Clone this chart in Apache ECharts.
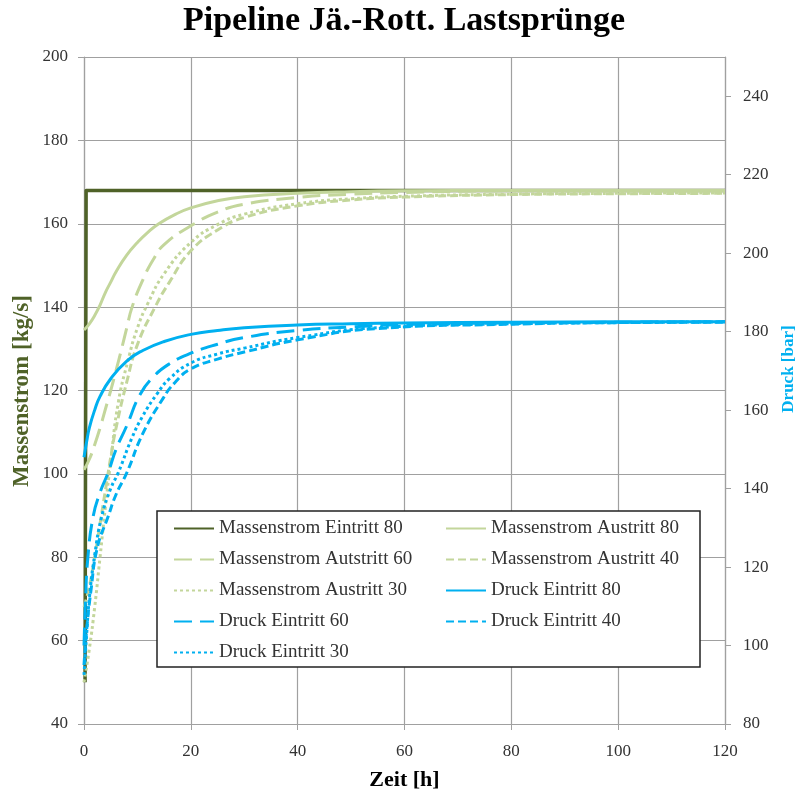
<!DOCTYPE html>
<html>
<head>
<meta charset="utf-8">
<script src="https://cdn.jsdelivr.net/npm/echarts@6/dist/echarts.min.js"></script>
<style>
html,body{margin:0;padding:0;background:#fff;}
#c{width:798px;height:796px;}
</style>
</head>
<body>
<div id="c"></div>
<script>
// ---- data (t [h], value) ----
const massEin80 = [[0.2,50],[0.4,168],[120,168]];
const massAus80 = [[0,134.5],[1,136],[2,138],[3,140.5],[4,143.5],[5,146],[6,148.5],[8,152.5],[10,155.5],[12,158],[14,160],[17,162.2],[20,163.8],[25,165.5],[30,166.5],[40,167.3],[50,167.7],[60,167.9],[80,168],[120,168]];
const massAus60 = [[0,101],[1,103.5],[2,107],[3,111],[4,115.5],[5,120],[6,124.8],[7,129.8],[8,135],[9,140],[11,146.5],[13,151.5],[15,155],[20,159.5],[25,162.8],[30,164.7],[40,166.3],[50,167.1],[60,167.5],[80,167.9],[120,168]];
const massAus40 = [[0,68],[1,73],[2,80],[3,88],[4,96],[5,104],[6,111],[8,122],[10,131],[13.3,140],[16,146],[20,153.5],[25,158.5],[30,161.5],[40,164.3],[50,165.7],[60,166.4],[80,167],[100,167.2],[120,167.3]];
const massAus30 = [[0,50],[1,58],[2,68],[3,80],[4,92],[5,103],[6.4,117],[8.2,127],[10,135],[12,141],[15,148],[20,155.5],[25,159.8],[30,162.3],[40,164.8],[50,166],[60,166.6],[80,167.1],[100,167.3],[120,167.4]];
const druckEin80 = [[0,148],[0.5,152],[1,155.5],[2,160],[3,163.5],[5,168],[8,172.5],[11,175.2],[15,177.5],[20,179.3],[25,180.3],[30,181],[40,181.7],[50,182],[60,182.2],[80,182.4],[100,182.5],[120,182.5]];
const druckEin60 = [[0,100],[0.3,112],[0.7,122],[1.7,132.8],[3,139],[4.5,144],[6,150],[8,156],[10.5,164],[13,168.5],[16,171.8],[20,174.5],[25,176.8],[30,178.5],[40,180.3],[50,181.2],[60,181.8],[80,182.2],[100,182.4],[120,182.5]];
const druckEin40 = [[0,95],[0.5,104],[1.3,114],[2.5,125],[4.5,132.8],[6,138.5],[8,144],[11,154],[14.8,163],[17,167],[20,170.5],[25,173],[30,174.8],[40,177.9],[55,180.8],[80,181.9],[100,182.3],[120,182.4]];
const druckEin30 = [[0,92.5],[0.5,103],[1,112],[2,123],[3.3,132.8],[5,140],[6.4,144],[9,153],[11,158.5],[13.6,164],[16,168],[20,172],[25,174.3],[30,175.8],[40,178.5],[55,181],[80,182],[100,182.3],[120,182.5]];

const leftTicks = [40,60,80,100,120,140,160,180,200];
const rightTicks = [80,100,120,140,160,180,200,220,240];
const xTicks = [0,20,40,60,80,100,120];

const names = ['Massenstrom Eintritt 80','Massenstrom Austritt 80','Massenstrom Autstritt 60','Massenstrom Austritt 40','Massenstrom Austritt 30','Druck Eintritt 80','Druck Eintritt 60','Druck Eintritt 40','Druck Eintritt 30'];

const DARK = '#4F6228', LIGHT = '#C3D69B', BLUE = '#00B0F0';
const FONT = '"Liberation Serif", "Times New Roman", serif';
const LONG = [18, 8], SHORT = [8, 4], DOT = [3, 3];

function mk(name, data, yIdx, color, type, width, smooth) {
  return {
    name, type: 'line', data, yAxisIndex: yIdx, symbol: 'none', showSymbol: false,
    smooth: smooth ? 0.5 : false,
    lineStyle: {color, width, type, cap: 'butt', join: 'round'}, itemStyle: {color},
    animation: false
  };
}

const chart = echarts.init(document.getElementById('c'), null, {renderer: 'canvas'});
const axisGray = '#A0A0A0';
chart.setOption({
  animation: false,
  backgroundColor: '#fff',
  title: {
    text: 'Pipeline Jä.-Rott. Lastsprünge', left: 178, top: -1,
    textStyle: {fontFamily: FONT, fontWeight: 'bold', fontSize: 34, color: '#000'}
  },
  grid: {left: 84, right: 73, top: 57, bottom: 72, containLabel: false, outerBoundsMode: 'none'},
  xAxis: {
    type: 'value', min: 0, max: 120, interval: 20,
    name: 'Zeit [h]', nameLocation: 'middle', nameGap: 45,
    nameTextStyle: {fontFamily: FONT, fontWeight: 'bold', fontSize: 22, color: '#000'},
    axisLine: {show: true, onZero: false, lineStyle: {color: axisGray, width: 1.2}},
    axisTick: {show: true, inside: false, length: 6, lineStyle: {color: axisGray}},
    axisLabel: {fontFamily: FONT, fontSize: 17, color: '#333', margin: 19, customValues: xTicks},
    splitLine: {show: true, lineStyle: {color: axisGray, width: 1.2}}
  },
  yAxis: [
    {
      type: 'value', min: 40, max: 200, interval: 20, position: 'left',
      axisLine: {show: true, lineStyle: {color: axisGray, width: 1.2}},
      axisTick: {show: true, length: 6, lineStyle: {color: axisGray}},
      axisLabel: {fontFamily: FONT, fontSize: 17, color: '#333', margin: 16, customValues: leftTicks},
      splitLine: {show: true, lineStyle: {color: axisGray, width: 1.2}}
    },
    {
      type: 'value', min: 80, max: 250, interval: 10, position: 'right',
      axisLine: {show: true, lineStyle: {color: axisGray, width: 1.2}},
      axisTick: {show: true, length: 6, lineStyle: {color: axisGray}, customValues: rightTicks},
      axisLabel: {fontFamily: FONT, fontSize: 17, color: '#333', margin: 18, customValues: rightTicks},
      splitLine: {show: false}
    }
  ],
  graphic: [
    {type: 'text', x: 22, y: 391, rotation: Math.PI / 2,
     style: {text: 'Massenstrom [kg/s]', fill: DARK, font: 'bold 23px ' + FONT, textAlign: 'center', textVerticalAlign: 'middle'}},
    {type: 'text', x: 789, y: 369, rotation: Math.PI / 2,
     style: {text: 'Druck [bar]', fill: BLUE, font: 'bold 17px ' + FONT, textAlign: 'center', textVerticalAlign: 'middle'}},
    {type: 'rect', shape: {x: 157, y: 511, width: 543, height: 156}, z: 10,
     style: {fill: '#fff', stroke: '#222', lineWidth: 1.5}}
  ],
  legend: [
    {
      data: [names[0], names[2], names[4], names[6], names[8]],
      orient: 'vertical', left: 168, top: 514, itemWidth: 40, itemHeight: 14, itemGap: 12,
      z: 20, textStyle: {fontFamily: FONT, fontSize: 19, color: '#333'},
      itemStyle: {opacity: 0}, selectedMode: false
    },
    {
      data: [names[1], names[3], names[5], names[7]],
      orient: 'vertical', left: 440, top: 514, itemWidth: 40, itemHeight: 14, itemGap: 12,
      z: 20, textStyle: {fontFamily: FONT, fontSize: 19, color: '#333'},
      itemStyle: {opacity: 0}, selectedMode: false
    }
  ],
  series: [
    mk(names[0], massEin80, 0, DARK, 'solid', 3.5, false),
    mk(names[1], massAus80, 0, LIGHT, 'solid', 3, true),
    mk(names[2], massAus60, 0, LIGHT, LONG, 3, true),
    mk(names[3], massAus40, 0, LIGHT, SHORT, 3, true),
    mk(names[4], massAus30, 0, LIGHT, DOT, 3, true),
    mk(names[5], druckEin80, 1, BLUE, 'solid', 3, true),
    mk(names[6], druckEin60, 1, BLUE, LONG, 3, true),
    mk(names[7], druckEin40, 1, BLUE, SHORT, 3, true),
    mk(names[8], druckEin30, 1, BLUE, DOT, 3, true)
  ]
});
</script>
</body>
</html>
